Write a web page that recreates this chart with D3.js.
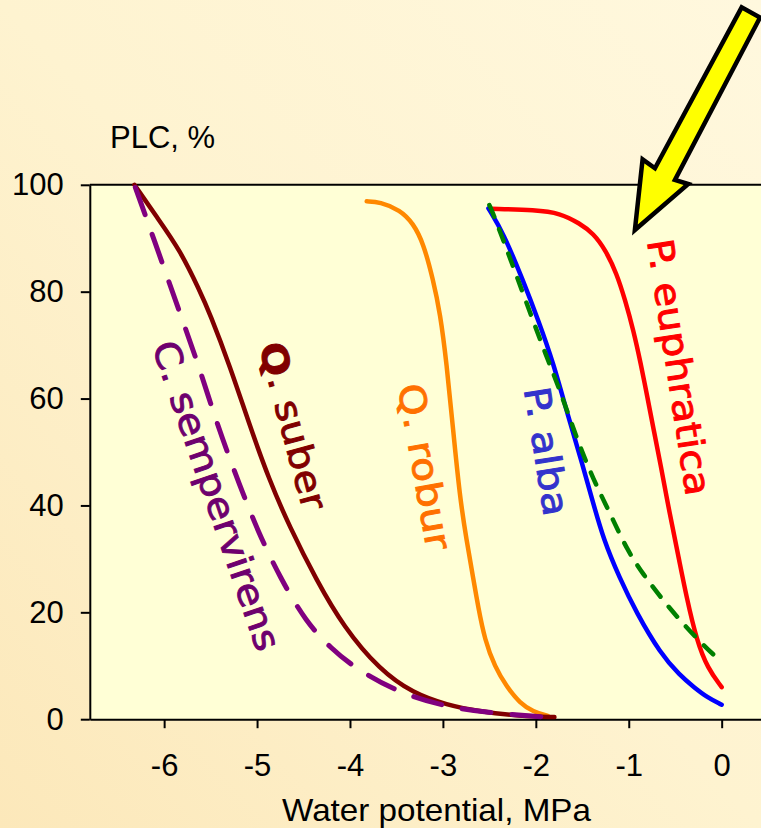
<!DOCTYPE html>
<html><head><meta charset="utf-8">
<script src="https://cdn.jsdelivr.net/npm/d3@7"></script>
<style>html,body{margin:0;padding:0;overflow:hidden;background:#FFF8DD;}</style>
</head><body>
<svg id="chart" width="761" height="828"></svg>
<script>
// ---- data ----
const xTicks = [-6, -5, -4, -3, -2, -1, 0];
const yTicks = [0, 20, 40, 60, 80, 100];

const suberX = [-6.32,-6.08,-5.83,-5.62,-5.51,-5.29,-5.08,-4.87,-4.65,-4.36,-4.07,-3.68,-3.32,-2.96,-2.60,-2.17,-1.80];
const suberY = [100,94.0,87.8,80.3,76.0,66.0,55.0,44.8,36.0,26.0,17.3,9.2,4.85,2.66,1.4,0.6,0.4];

const sempX = [-6.31,-6.12,-5.83,-5.65,-5.545,-5.377,-5.187,-4.99,-4.75,-4.47,-4.20,-3.95,-3.46,-2.96,-2.46,-1.80];
const sempY = [99.5,90.3,76.0,67.2,61.5,52.6,43.8,35.1,26.4,18.1,13.2,9.6,4.8,2.3,1.1,0.3];

const roburX = [-3.82,-3.68,-3.46,-3.32,-3.21,-3.105,-3.03,-2.96,-2.89,-2.818,-2.746,-2.675,-2.621,-2.549,-2.441,-2.315,-2.172,-2.029,-1.87];
const roburY = [96.9,96.8,95.3,92.8,89.1,82.2,76.0,66.6,54.1,41.6,33.5,26.5,21.05,14.8,9.8,6.1,3.0,1.4,0.6];

const albaX = [-2.51,-2.35,-2.14,-1.97,-1.81,-1.65,-1.52,-1.40,-1.27,-1.10,-0.92,-0.66,-0.45,-0.30,-0.15,0];
const albaY = [95.6,91.0,82.2,74.5,66.6,56.5,49.0,41.5,33.5,26.5,20.0,12.3,8.2,6.0,4.0,2.7];

const euphX = [-2.48,-2.0,-1.74,-1.53,-1.38,-1.25,-1.13,-1.04,-0.95,-0.87,-0.80,-0.73,-0.66,-0.56,-0.46,-0.38,-0.27,-0.15,0];
const euphY = [95.5,95.3,94.7,92.8,90.9,87.8,83.4,78.5,72.8,66.5,60.3,54.0,47.9,38.5,30.0,23.0,14.8,9.5,6.0];

const greenX = [-2.50,-2.46,-2.25,-2.06,-1.90,-1.74,-1.56,-1.38,-1.20,-1.02,-0.84,-0.66,-0.45,-0.20,-0.07];
const greenY = [96.2,94.7,85.0,76.0,68.5,61.6,52.5,44.8,38.5,31.7,27.0,22.9,18.5,13.9,11.8];

const labelText  = ["Q. suber", "C. sempervirens", "Q. robur", "P. alba", "P. euphratica"];
const labelV     = [-4.982, -6.134, -3.486, -2.129, -0.804];
const labelP     = [69.83, 69.83, 62.35, 61.79, 89.48];

const arrowV = [-0.934, -0.851, -0.718, 0.215, 0.413, -0.503, -0.360];
const arrowP = [91.54, 104.77, 103.09, 133.2, 131.3, 100.9, 100.15];

// ---- drawing ----
const W = 761, H = 828;
const svg = d3.select("#chart");
const defs = svg.append("defs");
const grad = defs.append("linearGradient").attr("id","bg")
  .attr("x1","1").attr("y1","0").attr("x2","0").attr("y2","1");
grad.append("stop").attr("offset","0").attr("stop-color","#FFF8DE");
grad.append("stop").attr("offset","0.5").attr("stop-color","#FEF3D0");
grad.append("stop").attr("offset","1").attr("stop-color","#FCE8BA");
svg.append("rect").attr("width",W).attr("height",H).attr("fill","url(#bg)");

const x = d3.scaleLinear().domain([-6.8, 0.66]).range([89.8, 783]);
const y = d3.scaleLinear().domain([0, 100]).range([719.2, 184.8]);

svg.append("rect")
  .attr("x", x(-6.8)).attr("y", y(100))
  .attr("width", x(0.66) - x(-6.8)).attr("height", y(0) - y(100))
  .attr("fill", "#FFFFD6");

// top border
svg.append("line").attr("x1", x(-6.8)).attr("x2", x(0.66))
  .attr("y1", y(100)).attr("y2", y(100)).attr("stroke","#000").attr("stroke-width",2);

const axisFont = "'Liberation Sans', Arial, sans-serif";

const gx = svg.append("g").attr("transform", `translate(0,${y(0)})`)
  .call(d3.axisBottom(x).tickValues(xTicks).tickFormat(d => String(d))
    .tickSize(9).tickSizeOuter(0).tickPadding(26));
const gy = svg.append("g").attr("transform", `translate(${x(-6.8)},0)`)
  .call(d3.axisLeft(y).tickValues(yTicks).tickFormat(d => String(d))
    .tickSize(9).tickSizeOuter(0).tickPadding(17));
[gx, gy].forEach(g => {
  g.select(".domain").attr("stroke","#000").attr("stroke-width",2);
  g.selectAll(".tick line").attr("stroke","#000").attr("stroke-width",2);
  g.selectAll(".tick text").attr("fill","#000").attr("font-family",axisFont).attr("font-size",31);
});

svg.append("text").attr("x", 110).attr("y", 148)
  .attr("font-family", axisFont).attr("font-size", 31).attr("fill","#000")
  .text("PLC, %");
svg.append("text").attr("x", 436.5).attr("y", 821).attr("text-anchor","middle")
  .attr("font-family", axisFont).attr("font-size", 32).attr("fill","#000")
  .attr("textLength", 309).attr("lengthAdjust","spacingAndGlyphs")
  .text("Water potential, MPa");

const line = d3.line().x(d => x(d[0])).y(d => y(d[1])).curve(d3.curveBasis);
const zip = (a, b) => a.map((v, i) => [v, b[i]]);

const series = [
  {xs: roburX, ys: roburY, color: "#FF8800", w: 4.5, dash: null},
  {xs: euphX,  ys: euphY,  color: "#FF0000", w: 4.5, dash: null},
  {xs: albaX,  ys: albaY,  color: "#0000FF", w: 4.5, dash: null},
  {xs: suberX, ys: suberY, color: "#800000", w: 4.5, dash: null},
  {xs: sempX,  ys: sempY,  color: "#800080", w: 5,   dash: "29,21"},
  {xs: greenX, ys: greenY, color: "#008000", w: 4.5, dash: "13,13"}
];
series.forEach(s => {
  svg.append("path").datum(zip(s.xs, s.ys))
    .attr("d", line).attr("fill","none")
    .attr("stroke", s.color).attr("stroke-width", s.w)
    .attr("stroke-linecap","round").attr("stroke-linejoin","round")
    .attr("stroke-dasharray", s.dash);
});

// curve labels
const labelFont = "'DejaVu Sans', 'Noto Sans', sans-serif";
const labelStyle = [
  {angle: 75,   len: 172, color: "#800000"},
  {angle: 71,   len: 325, color: "#6E006E"},
  {angle: 80,   len: 168, color: "#FF7000"},
  {angle: 81,   len: 130, color: "#3333CC"},
  {angle: 81.3, len: 259, color: "#FF0000"}
];
labelText.forEach((t, i) => {
  const st = labelStyle[i];
  const px = x(labelV[i]), py = y(labelP[i]);
  const txt = svg.append("text")
    .attr("transform", `translate(${px},${py}) rotate(${st.angle})`)
    .attr("font-family", labelFont).attr("font-size", 36)
    .attr("fill", st.color).attr("stroke", st.color).attr("stroke-width", 0.9)
    .attr("textLength", st.len).attr("lengthAdjust","spacingAndGlyphs");
  if (i === 0) {
    txt.append("tspan").attr("font-weight","bold").text(t.slice(0,1));
    txt.append("tspan").text(t.slice(1));
  } else {
    txt.text(t);
  }
});

// yellow arrow annotation
svg.append("polygon")
  .attr("points", arrowV.map((v, i) => `${x(v)},${y(arrowP[i])}`).join(" "))
  .attr("fill","#FFFF00").attr("stroke","#000").attr("stroke-width",4.5)
  .attr("stroke-linejoin","miter");
</script>
</body></html>
